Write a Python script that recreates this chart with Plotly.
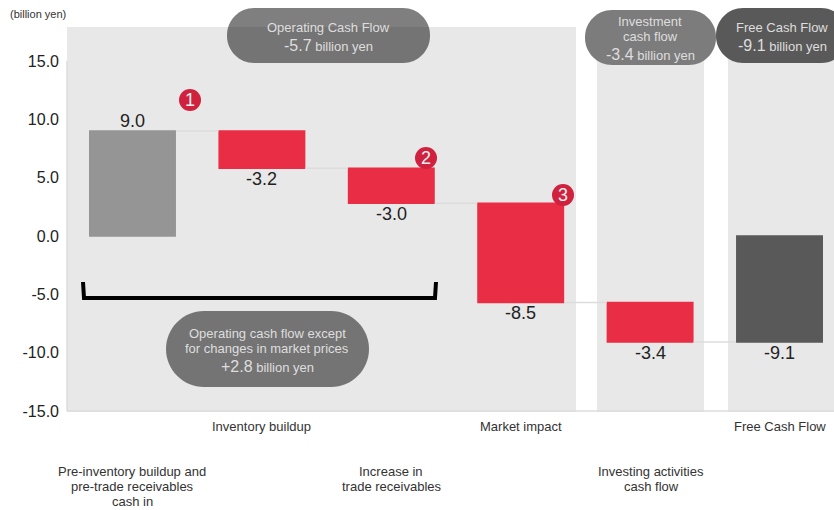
import plotly.graph_objects as go

W, H = 834, 510
L, R, T, B = 67, 834, 27, 412
FONT = "Liberation Sans"

# Waterfall data (billion yen)
categories = ["Pre-inventory buildup", "Inventory buildup", "Increase in trade receivables",
              "Market impact", "Investing activities cash flow", "Free Cash Flow"]
values = [9.0, -3.2, -3.0, -8.5, -3.4, -9.1]
measures = ["relative", "relative", "relative", "relative", "relative", "total"]
value_labels = ["9.0", "-3.2", "-3.0", "-8.5", "-3.4", "-9.1"]
y_ticks = [15, 10, 5, 0, -5, -10, -15]
y_tick_labels = ["15.0", "10.0", "5.0", "0.0", "-5.0", "-10.0", "-15.0"]

category_lines = [
    ["Pre-inventory buildup and", "pre-trade receivables", "cash in"],
    ["Inventory buildup"],
    ["Increase in", "trade receivables"],
    ["Market impact"],
    ["Investing activities", "cash flow"],
    ["Free Cash Flow"],
]
# Staggered label rows: pixel height of the first line and horizontal centres
category_rows = [471.5, 426, 471.5, 426, 471.5, 426]
category_x = [132, 261, 391, 521, 651, 780]

panels = [(67, 576), (597, 704), (728, 834)]


def px(x):
    return (x - L) / (R - L)


def py(y):
    return (B - y) / (B - T)


def pill_path(x0, y0, x1, y1, r):
    k = 0.5523 * r
    pts = [
        f"M{px(x0 + r)},{py(y0)}", f"L{px(x1 - r)},{py(y0)}",
        f"C{px(x1 - r + k)},{py(y0)} {px(x1)},{py(y0 + r - k)} {px(x1)},{py(y0 + r)}",
        f"L{px(x1)},{py(y1 - r)}",
        f"C{px(x1)},{py(y1 - r + k)} {px(x1 - r + k)},{py(y1)} {px(x1 - r)},{py(y1)}",
        f"L{px(x0 + r)},{py(y1)}",
        f"C{px(x0 + r - k)},{py(y1)} {px(x0)},{py(y1 - r + k)} {px(x0)},{py(y1 - r)}",
        f"L{px(x0)},{py(y0 + r)}",
        f"C{px(x0)},{py(y0 + r - k)} {px(x0 + r - k)},{py(y0)} {px(x0 + r)},{py(y0)}", "Z",
    ]
    return " ".join(pts)


def label(text, x, y, size=13, color="#333333", anchor="center"):
    return dict(text=text, x=px(x), y=py(y), xref="paper", yref="paper", showarrow=False,
                xanchor=anchor, yanchor="middle", align="center",
                font=dict(family=FONT, size=size, color=color))


NO_LINE = dict(width=0)
shapes, annotations = [], []

# Grey panels behind the bars
for x0, x1 in panels:
    shapes.append(dict(type="rect", xref="paper", yref="paper", layer="below", line=NO_LINE,
                       fillcolor="#e8e8e8", x0=px(x0), x1=px(x1), y0=0, y1=1))
# Axis rules
shapes.append(dict(type="line", xref="paper", yref="paper", layer="below", x0=0, x1=1,
                   y0=py(411), y1=py(411), line=dict(color="#dcdcdc", width=1.5)))
shapes.append(dict(type="line", xref="paper", yref="paper", layer="below", x0=0, x1=0,
                   y0=py(61), y1=py(411), line=dict(color="#dcdcdc", width=1.5)))

# Summary pills
PILL = "rgba(0,0,0,0.5)"
for x0, y0, x1, y1, r, col in [(227, 8, 430, 63, 27, PILL), (585, 10, 716, 65, 27, "#7c7c7c"),
                               (716, 8, 848, 63, 27, "#595959"), (166, 311, 369, 387, 38, PILL)]:
    shapes.append(dict(type="path", xref="paper", yref="paper", layer="above", line=NO_LINE,
                       fillcolor=col, path=pill_path(x0, y0, x1, y1, r)))

# Bracket under the first three bars
shapes.append(dict(type="path", xref="paper", yref="paper", layer="above",
                   path=f"M{px(83)},{py(282)} L{px(84)},{py(298)} L{px(435)},{py(298)} L{px(436)},{py(282)}",
                   line=dict(color="#000000", width=4)))

# Numbered badges
for n, cx, cy in [("1", 190, 100), ("2", 426, 158), ("3", 563, 195)]:
    shapes.append(dict(type="circle", xref="paper", yref="paper", layer="above", line=NO_LINE,
                       fillcolor="#d0213f", x0=px(cx - 11), x1=px(cx + 11), y0=py(cy + 11), y1=py(cy - 11)))
    annotations.append(label(n, cx, cy, size=18, color="#f2f2f2"))

PILL_TEXT = "#dedede"


def amount(num, x, y, big=16, small=13):
    return label(f'<span style="font-size:{big}px">{num}</span> billion yen', x, y, size=small, color=PILL_TEXT)


annotations += [
    label("Operating Cash Flow", 328, 27, color=PILL_TEXT),
    amount("-5.7", 328, 45),
    label("Investment", 650, 21, color=PILL_TEXT),
    label("cash flow", 650, 36, color=PILL_TEXT),
    amount("-3.4", 650, 54),
    label("Free Cash Flow", 782, 27, color=PILL_TEXT),
    amount("-9.1", 782, 45),
    label("Operating cash flow except", 267, 333, color=PILL_TEXT),
    label("for changes in market prices", 267, 348, color=PILL_TEXT),
    amount("+2.8", 267, 366),
    label("(billion yen)", 38, 14, size=11, color="#333333"),
]

# Category captions, one annotation per line for tight leading
for lines, row, cx in zip(category_lines, category_rows, category_x):
    for i, line in enumerate(lines):
        annotations.append(label(line, cx, row + 15 * i))

# Value labels sit just past each bar's running level
level = 0.0
for cat, val, measure, text in zip(categories, values, measures, value_labels):
    level = val if measure == "total" else level + val
    annotations.append(dict(text=text, x=cat, y=level, xref="x", yref="y", showarrow=False,
                            xanchor="center", yanchor="middle", yshift=10 if val > 0 else -11,
                            font=dict(family=FONT, size=18, color="#222222")))

fig = go.Figure(go.Waterfall(
    x=categories,
    y=values,
    measure=measures,
    width=0.672,
    increasing=dict(marker=dict(color="#959595", line=dict(width=0))),
    decreasing=dict(marker=dict(color="#e92d45", line=dict(width=0))),
    totals=dict(marker=dict(color="#595959", line=dict(width=0))),
    connector=dict(line=dict(color="#dcdcdc", width=1.5)),
    hoverinfo="skip",
))

fig.update_layout(
    width=W, height=H,
    margin=dict(l=L, r=W - R, t=T, b=H - B, pad=0),
    paper_bgcolor="white", plot_bgcolor="rgba(0,0,0,0)",
    showlegend=False,
    shapes=shapes, annotations=annotations,
    font=dict(family=FONT),
    xaxis=dict(type="category", categoryarray=categories, range=[-0.506, 5.421],
               showticklabels=False, showgrid=False, zeroline=False, showline=False, ticks=""),
    yaxis=dict(range=[-15.09, 17.91], tickvals=y_ticks, ticktext=y_tick_labels,
               showgrid=False, zeroline=False, showline=False, ticks="", ticklabelstandoff=7,
               tickfont=dict(family=FONT, size=16, color="#222222")),
)

fig.write_html("out.html", config={"displayModeBar": False})
